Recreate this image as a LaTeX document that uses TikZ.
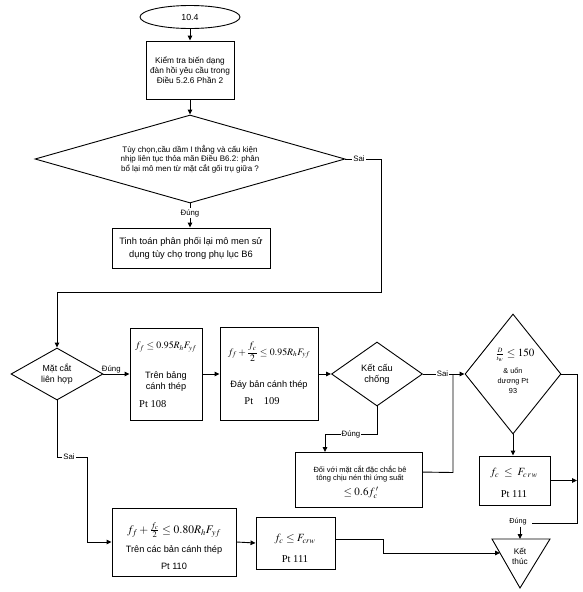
\documentclass[tikz,border=0pt]{standalone}
\usepackage{mathptmx}
\usepackage[no-math]{fontspec}
\setmainfont{Liberation Sans}
\newfontfamily\tnr{Liberation Serif}
\usetikzlibrary{shapes.geometric,arrows.meta,calc}
\tikzset{
  ln/.style={line width=0.9pt},
  arr/.style={ln,-{Triangle[length=5pt,width=4.5pt]}},
  box/.style={draw,ln,rectangle,inner sep=0pt},
  dia/.style={draw,ln,diamond,inner sep=0pt,align=center},
  txt/.style={inner sep=0pt,align=center,font=\fontsize{9.2}{11}\selectfont},
  small/.style={inner sep=0pt,align=center,font=\fontsize{7.3}{10}\selectfont},
  mth/.style={inner sep=0pt,font=\fontsize{9.8}{11}\selectfont},
  big/.style={inner sep=0pt,font=\fontsize{11}{13}\selectfont},
  pt/.style={inner sep=0pt,font=\fontsize{10.5}{12}\selectfont\tnr},
  lbl/.style={inner sep=1pt,font=\fontsize{7.8}{9}\selectfont},
}
\begin{document}
\begin{tikzpicture}[x=1pt,y=-1pt]
\useasboundingbox (0,0) rectangle (582,592);

% top part
\node[draw,ln,ellipse,minimum width=100pt,minimum height=23pt,inner sep=0pt,font=\fontsize{8.8}{10}\selectfont] (start) at (190,17) {10.4};
\node[box,minimum width=88pt,minimum height=58pt,small,font=\fontsize{8.3}{10}\selectfont] (chk) at (190,70) {Kiểm tra biến dạng\\đàn hồi yêu cầu trong\\Điều 5.2.6 Phần 2};
\node[dia,minimum width=310pt,minimum height=88pt,shape aspect=3.5,font=\fontsize{8}{9.6}\selectfont] (q1) at (190,159) {Tùy chọn,cầu dầm I thẳng và cấu kiện\\nhịp liên tục thỏa mãn Điều B6.2: phân\\bổ lại mô men từ mặt cắt gối trụ giữa ?};
\node[box,minimum width=158pt,minimum height=40pt,align=center,font=\fontsize{9.3}{13}\selectfont] (redis) at (191,248) {Tinh toán phân phối lại mô men sử\\dụng tùy chọ trong phụ lục B6};

% middle row
\node[dia,minimum width=92pt,minimum height=52pt,shape aspect=1.77,font=\fontsize{8.8}{11}\selectfont] (md) at (57,374) {Mặt cắt\\liên hợp};

\node[box,minimum width=72pt,minimum height=92pt] (b108) at (166,374) {};
\node[mth] (m108) at (166,347) {$f_f \le 0.95 R_h F_{yf}$};
\node[txt] (t108) at (166,382) {Trên bảng\\cánh thép};
\node[pt,anchor=west] (p108) at (139,404) {Pt 108};

\node[box,minimum width=98pt,minimum height=93pt] (b109) at (269,374) {};
\node[mth] (m109) at (269,352) {$f_f + {\displaystyle\frac{f_c}{2}} \le 0.95 R_h F_{yf}$};
\node[txt] (t109) at (269,385) {Đáy bản cánh thép};
\node[pt] (p109) at (262,401) {Pt\quad 109};

\node[dia,minimum width=91pt,minimum height=64pt,shape aspect=1.42,font=\fontsize{9.3}{11}\selectfont] (kc) at (377,374) {Kết cấu\\chống};

\node[draw,ln,diamond,inner sep=0pt,minimum width=96pt,minimum height=120pt,shape aspect=0.8] (bd) at (513,374) {};
\node[big] (mbd) at (515,355) {$\frac{\scriptscriptstyle D}{\scriptscriptstyle t_w}\le 150$};
\node[small,font=\fontsize{7.3}{10}\selectfont] (tbd) at (513,381) {\& uốn\\dương Pt\\93};

\node[box,minimum width=127pt,minimum height=55pt] (dv) at (358.5,480) {};
\node[small,font=\fontsize{7.5}{8.5}\selectfont] (tdv) at (360,474) {Đối với mặt cắt đặc chắc bê\\tông chịu nén thì ứng suất};
\node[big] (mdv) at (361,493) {$\le 0.6 f^{\,\prime}_{c}$};

\node[box,minimum width=71pt,minimum height=49pt] (r111) at (514.5,480.5) {};
\node[big] (mr111) at (514,473) {$f_c \;\le\; F_{c\,r\,w}$};
\node[pt] (pr111) at (514,494) {Pt 111};

% bottom row
\node[box,minimum width=124pt,minimum height=68pt] (b110) at (174,542) {};
\node[big,font=\fontsize{11.5}{13}\selectfont] (m110) at (174,530) {$f_f + \frac{f_c}{2} \le 0.80 R_h F_{yf}$};
\node[txt] (t110) at (174,550) {Trên các bản cánh thép};
\node[txt] (p110) at (174,566) {Pt 110};

\node[box,minimum width=79pt,minimum height=52pt] (b111) at (295.5,543) {};
\node[big] (m111) at (295,539) {$f_c \le F_{crw}$};
\node[pt] (p111) at (295,559) {Pt 111};

% end triangle
\coordinate (triA) at (492,539);
\coordinate (triB) at (550,539);
\coordinate (triC) at (520,588);
\coordinate (triT) at (520,539);
\coordinate (triL) at (500,553);
\draw[ln] (triA) -- (triB) -- (triC) -- cycle;
\node[txt,font=\fontsize{8.3}{10}\selectfont] (endt) at (520,556) {Kết\\thúc};

% connectors
\draw[arr] (start.south) -- (chk.north);
\draw[arr] (chk.south) -- (q1.north);
\draw[arr] (q1.south) -- node[lbl,fill=white,pos=0.4]{Đúng} (q1.south |- redis.north);
\draw[arr] (q1.east) -- node[lbl,fill=white,pos=0.38]{Sai} (381,159) -- (381,292) -| (md.north);

\draw[arr] (md.east) -- node[lbl,above,pos=0.3,yshift=-1pt]{Đúng} (b108.west);
\draw[arr] (b108.east) -- (b109.west);
\draw[arr] (b109.east) -- (kc.west);
\draw[arr] (kc.east) -- node[lbl,fill=white,pos=0.47]{Sai} (bd.west);
\draw[arr] (kc.south) -- (377,434) -- node[lbl,fill=white,pos=0.5]{Đúng} (325,434) -- ($(dv.north)+(-33.5,0)$);
\draw[ln] ($(dv.north east)+(0,20)$) -- (453,472.5) -- (453,374);

\draw[arr] (bd.south) -- (bd.south |- r111.north);
\node[lbl,font=\fontsize{7.3}{9}\selectfont] (dg3) at (518,522) {Đúng};
\draw[ln] (bd.east) -- (577,374) -- (577,523) -- (532,523);
\draw[arr] (r111.east) -- (577,480.5);
\draw[arr] (dg3.south -| triT) -- (triT);

\draw[arr] (md.south) -- (57,457) -- node[lbl,fill=white,pos=0.4]{Sai} (87,457) |- (b110.west);
\draw[arr] (b110.east) -- (b111.west);
\draw[arr] ($(b111.east)+(0,-4)$) -- (383,539) -- (383,553) -- (triL);
\end{tikzpicture}
\end{document}
